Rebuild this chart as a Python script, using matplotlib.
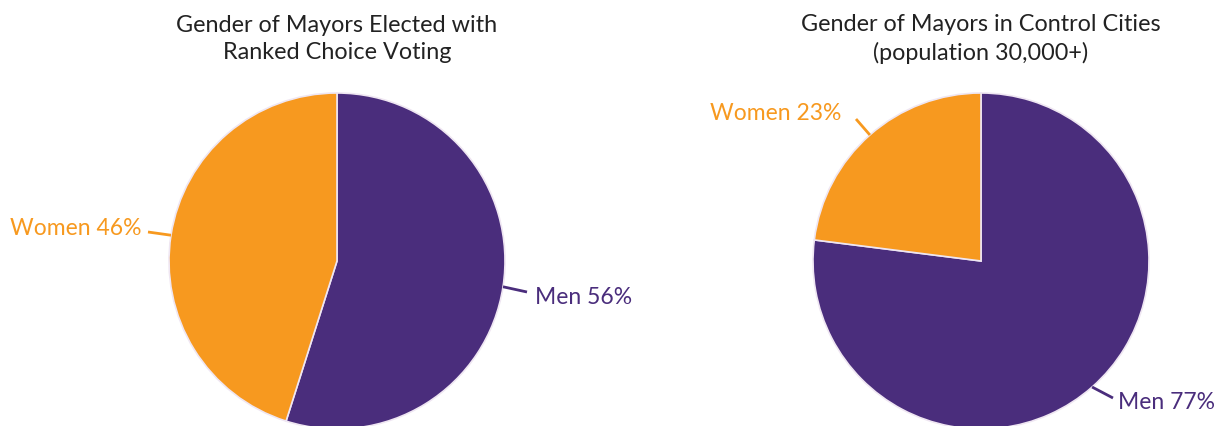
import numpy as np
import matplotlib
matplotlib.use("Agg")
import matplotlib.pyplot as plt

plt.rcParams['font.family'] = ['Lato', 'DejaVu Sans']

# data
labels = ['Men', 'Women']
rcv_values = [56, 46]
control_values = [77, 23]
titles = ['Gender of Mayors Elected with\nRanked Choice Voting',
          'Gender of Mayors in Control Cities\n(population 30,000+)']

purple = '#4A2D7C'
orange = '#F7991F'
colors = [purple, orange]

W, H = 1223, 427
fig = plt.figure(figsize=(W / 100, H / 100), dpi=100)
ax = fig.add_axes([0, 0, 1, 1])

R = 168
centers = [(337, H - 262), (981, H - 262)]

# label placement (pixel coords from top-left), leader line end
label_pos = {
    (0, 'Men'): ((535, 297), 'left', (527, 293)),
    (0, 'Women'): ((141, 229), 'right', (148, 233)),
    (1, 'Men'): ((1118, 403), 'left', (1113, 399)),
    (1, 'Women'): ((841, 113), 'right', (856, 120)),
}

for i, vals in enumerate([rcv_values, control_values]):
    cx, cy = centers[i]
    wedges, _ = ax.pie(vals, colors=colors, startangle=90, counterclock=False,
                       center=(cx, cy), radius=R,
                       wedgeprops=dict(edgecolor='#EFE6F2', linewidth=1.2))
    for w, lab, v in zip(wedges, labels, vals):
        mid = np.deg2rad((w.theta1 + w.theta2) / 2)
        ex, ey = cx + R * np.cos(mid), cy + R * np.sin(mid)
        (tx, ty), ha, (lx, ly) = label_pos[(i, lab)]
        col = w.get_facecolor()
        ax.plot([ex, lx], [ey, H - ly], color=col, lw=2, solid_capstyle='butt')
        ax.text(tx, H - ty, f'{lab} {v}%', ha=ha, va='center',
                fontsize=16.5, color=col)
    ax.text(cx, H - 39, titles[i], ha='center', va='center', fontsize=16.8,
            color='#222222', linespacing=1.4)

ax.set_xlim(0, W)
ax.set_ylim(0, H)
ax.set_aspect('equal')
ax.axis('off')

fig.savefig('out.png', dpi=100)
